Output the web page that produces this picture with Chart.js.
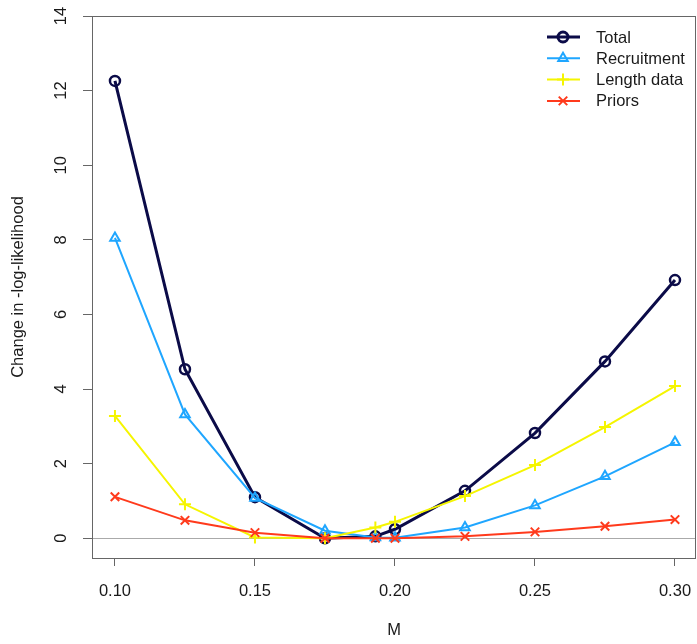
<!DOCTYPE html>
<html>
<head>
<meta charset="utf-8">
<script src="https://cdn.jsdelivr.net/npm/chart.js@4"></script>
<style>
  html, body { margin: 0; padding: 0; background: #fff; }
  #wrap { width: 697px; height: 644px; }
</style>
</head>
<body>
<div id="wrap"><canvas id="likeChart"></canvas></div>
<script>
// Likelihood profile over natural mortality M
const mValues = [0.1, 0.125, 0.15, 0.175, 0.193, 0.2, 0.225, 0.25, 0.275, 0.3];
const total = [12.26, 4.53, 1.10, 0.00, 0.05, 0.24, 1.27, 2.82, 4.74, 6.92];
const recruitment = [8.05, 3.32, 1.08, 0.20, 0.02, 0.01, 0.29, 0.88, 1.66, 2.57];
const lengthData = [3.28, 0.91, 0.02, 0.00, 0.29, 0.44, 1.13, 1.96, 2.98, 4.08];
const priors = [1.11, 0.48, 0.15, 0.00, 0.00, 0.00, 0.05, 0.17, 0.32, 0.50];
const xTicks = [0.10, 0.15, 0.20, 0.25, 0.30];
const yTicks = [0, 2, 4, 6, 8, 10, 12, 14];

const FONT = 'Arial, "Liberation Sans", sans-serif';
const FSIZE = 16.5;

function pts(vals) {
    return vals.map((v, i) => ({ x: mValues[i], y: v }));
}

// box round the plot area, like R's box()
const boxPlugin = {
    id: 'box',
    afterDraw(chart) {
        const a = chart.chartArea;
        const ctx = chart.ctx;
        ctx.save();
        ctx.strokeStyle = '#666';
        ctx.lineWidth = 1;
        ctx.strokeRect(a.left + 0.5, a.top + 0.5, a.right - a.left - 1, a.bottom - a.top);
        ctx.restore();
    }
};

// legend drawn R style: line with the marker on it
const rLegend = {
    id: 'rLegend',
    afterDraw(chart) {
        const ctx = chart.ctx;
        ctx.save();
        ctx.font = FSIZE + 'px ' + FONT;
        ctx.textBaseline = 'middle';
        ctx.textAlign = 'left';
        chart.data.datasets.forEach((ds, i) => {
            const y = 37 + i * 21.3;
            ctx.strokeStyle = ds.borderColor;
            ctx.lineWidth = ds.borderWidth;
            ctx.beginPath();
            ctx.moveTo(547, y);
            ctx.lineTo(580, y);
            ctx.stroke();
            ctx.fillStyle = 'rgba(0,0,0,0)';
            Chart.helpers.drawPoint(ctx, {
                pointStyle: ds.pointStyle,
                radius: ds.pointRadius,
                borderWidth: ds.pointBorderWidth
            }, 563, y);
            ctx.fillStyle = '#1a1a1a';
            ctx.fillText(ds.label, 596, y + 1);
        });
        ctx.restore();
    }
};

const ctx = document.getElementById('likeChart');
const likeChart = new Chart(ctx, {
    type: 'line',
    data: {
        datasets: [{
            label: 'Total',
            data: pts(total),
            borderColor: '#0b0b48',
            backgroundColor: 'rgba(0,0,0,0)',
            borderWidth: 3,
            pointStyle: 'circle',
            pointRadius: 5,
            pointBorderWidth: 2.5,
            order: 4
        }, {
            label: 'Recruitment',
            data: pts(recruitment),
            borderColor: '#1fa6ff',
            backgroundColor: 'rgba(0,0,0,0)',
            borderWidth: 2,
            pointStyle: 'triangle',
            pointRadius: 5.5,
            pointBorderWidth: 2,
            order: 3
        }, {
            label: 'Length data',
            data: pts(lengthData),
            borderColor: '#f5f500',
            backgroundColor: 'rgba(0,0,0,0)',
            borderWidth: 2,
            pointStyle: 'cross',
            pointRadius: 6,
            pointBorderWidth: 2,
            order: 2
        }, {
            label: 'Priors',
            data: pts(priors),
            borderColor: '#ff3a1c',
            backgroundColor: 'rgba(0,0,0,0)',
            borderWidth: 2,
            pointStyle: 'crossRot',
            pointRadius: 6,
            pointBorderWidth: 2,
            order: 1
        }]
    },
    options: {
        responsive: true,
        maintainAspectRatio: false,
        animation: false,
        layout: { autoPadding: false, padding: { left: 0, top: 16, right: 1, bottom: 0 } },
        elements: { line: { tension: 0 } },
        plugins: {
            legend: { display: false },
            tooltip: { enabled: false }
        },
        scales: {
            x: {
                type: 'linear',
                min: 0.0918,
                max: 0.3075,
                afterBuildTicks: s => { s.ticks = xTicks.map(v => ({ value: v })); },
                afterFit: s => { s.height = 86; s.paddingLeft = 0; s.paddingRight = 0; },
                grid: { display: true, drawOnChartArea: false, tickLength: 8, tickColor: '#666' },
                border: { display: false },
                ticks: {
                    padding: 0,
                    color: '#1a1a1a',
                    // tall line box pushes the labels down, R style gap under the ticks
                    font: { family: FONT, size: FSIZE, lineHeight: '50px' },
                    maxRotation: 0,
                    callback: v => v.toFixed(2)
                },
                title: {
                    display: true,
                    text: 'M',
                    color: '#1a1a1a',
                    font: { family: FONT, size: FSIZE },
                    padding: { top: 0, bottom: 4 }
                }
            },
            y: {
                type: 'linear',
                min: -0.53,
                max: 14,
                afterBuildTicks: s => { s.ticks = yTicks.map(v => ({ value: v })); },
                afterFit: s => { s.width = 92; s.paddingTop = 0; s.paddingBottom = 0; },
                grid: {
                    color: c => (c.tick && c.tick.value === 0 ? '#aaa' : 'rgba(0,0,0,0)'),
                    tickColor: '#666',
                    tickLength: 9,
                    lineWidth: 1
                },
                border: { display: false },
                ticks: {
                    padding: 12,
                    color: '#1a1a1a',
                    minRotation: 90,
                    maxRotation: 90,
                    crossAlign: 'center',
                    font: { family: FONT, size: FSIZE }
                },
                title: {
                    display: true,
                    text: 'Change in -log-likelihood',
                    color: '#1a1a1a',
                    font: { family: FONT, size: FSIZE },
                    padding: { top: 9, bottom: 0 }
                }
            }
        }
    },
    plugins: [boxPlugin, rLegend]
});
</script>
</body>
</html>
